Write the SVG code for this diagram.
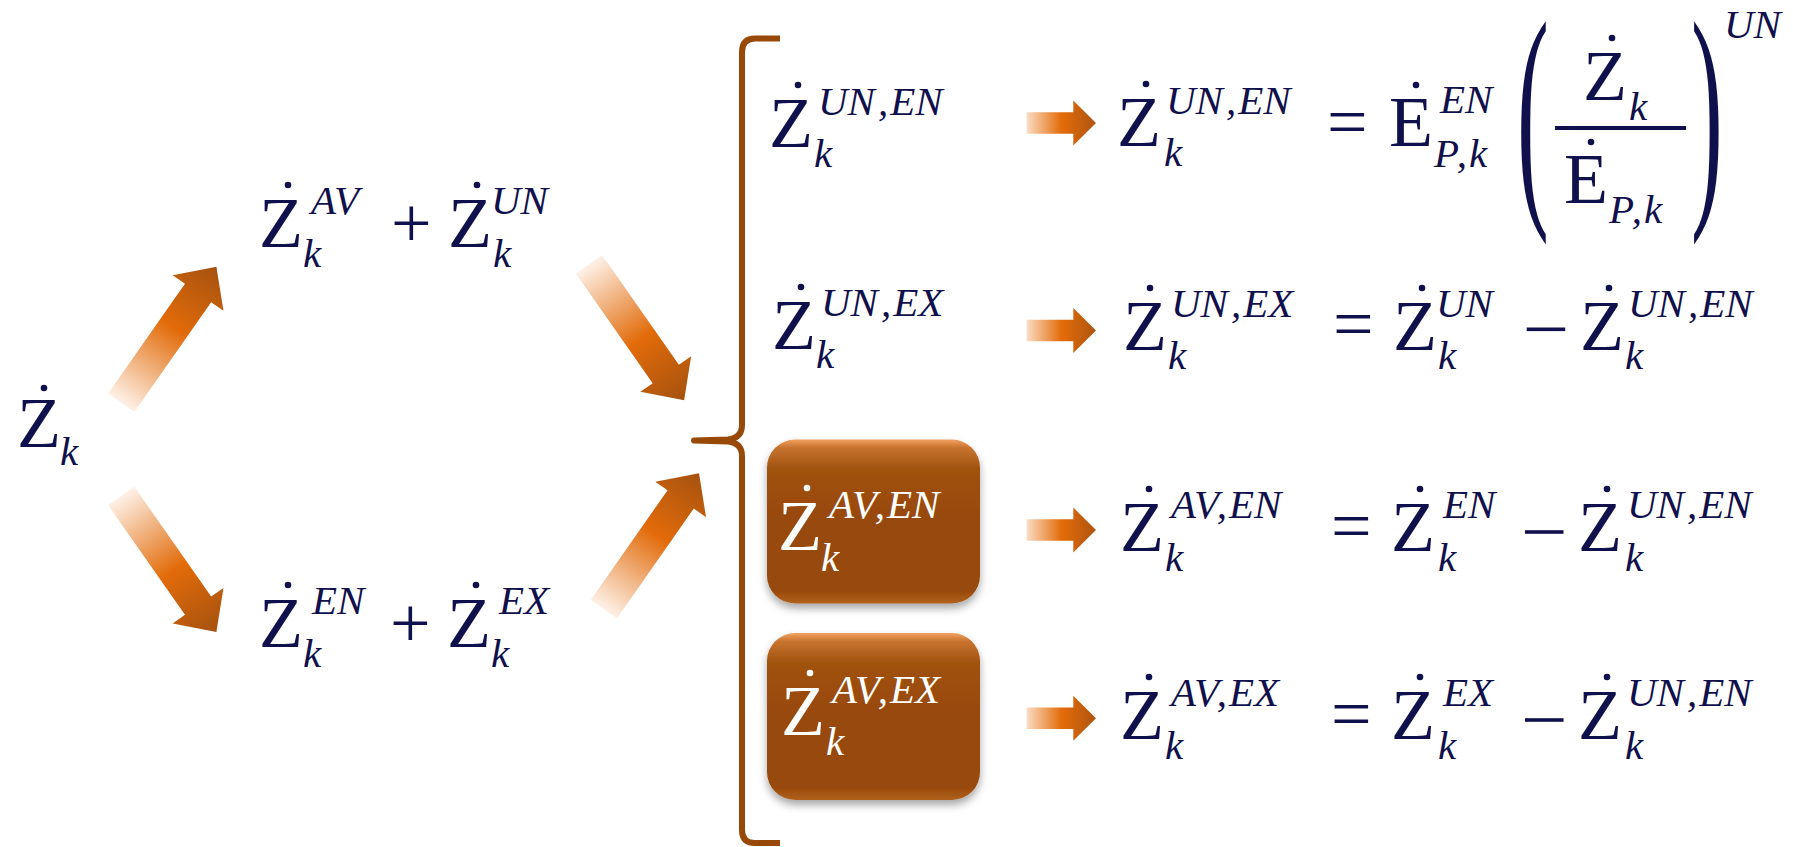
<svg xmlns="http://www.w3.org/2000/svg" width="1793" height="847" viewBox="0 0 1793 847">
<defs>
<linearGradient id="gBig" gradientUnits="userSpaceOnUse" x1="0" y1="0" x2="166" y2="0">
<stop offset="0" stop-color="#FEF1E7"/>
<stop offset="0.55" stop-color="#E26B0A"/>
<stop offset="1" stop-color="#A6520F"/>
</linearGradient>
<linearGradient id="gSmall" gradientUnits="userSpaceOnUse" x1="0" y1="0" x2="69.3" y2="0">
<stop offset="0" stop-color="#FADCC4"/>
<stop offset="0.5" stop-color="#E46C0A"/>
<stop offset="1" stop-color="#AE540F"/>
</linearGradient>
<linearGradient id="gBox" x1="0" y1="0" x2="0" y2="1">
<stop offset="0" stop-color="#F2A160"/>
<stop offset="0.05" stop-color="#C87430"/>
<stop offset="0.18" stop-color="#A0520F"/>
<stop offset="0.5" stop-color="#984807"/>
<stop offset="0.92" stop-color="#984807"/>
<stop offset="1" stop-color="#B0621E"/>
</linearGradient>
<filter id="shadow" x="-10%" y="-10%" width="120%" height="130%">
<feGaussianBlur in="SourceAlpha" stdDeviation="4"/>
<feOffset dy="5" result="b"/>
<feComponentTransfer><feFuncA type="linear" slope="0.35"/></feComponentTransfer>
<feMerge><feMergeNode/><feMergeNode in="SourceGraphic"/></feMerge>
</filter>
<path id="bigArrow" d="M0,-16 L134,-16 L134,-31 L166,0 L134,31 L134,16 L0,16 Z" fill="url(#gBig)"/>
<path id="smallArrow" d="M0,-10.8 L46.6,-10.8 L46.6,-22.5 L69.3,0 L46.6,22.5 L46.6,10.8 L0,10.8 Z" fill="url(#gSmall)"/>
</defs>

<g id="connectors">
<use href="#bigArrow" transform="translate(121.2,402.8) rotate(-55)"/>
<use href="#bigArrow" transform="translate(121.2,495.9) rotate(55)"/>
<use href="#bigArrow" transform="translate(588.9,264.2) rotate(55)"/>
<use href="#bigArrow" transform="translate(603.8,609.2) rotate(-55)"/>
<use href="#smallArrow" transform="translate(1026.7,123)"/>
<use href="#smallArrow" transform="translate(1026.7,330.5)"/>
<use href="#smallArrow" transform="translate(1026.7,530)"/>
<use href="#smallArrow" transform="translate(1026.7,718.3)"/>
<path id="brace" d="M780,38.5 L755,38.5 Q742,38.5 742,52 L742,425 Q742,438 728,439.5 L694,440.5 L728,441.5 Q742,443 742,456 L742,830 Q742,843 755,843 L780,843" fill="none" stroke="#984807" stroke-width="6" stroke-linejoin="round"/>
</g>

<g id="node-zk">
<text style="font-family:'Liberation Serif',serif;font-size:72px;fill:#10104C" x="17" y="447">Z</text>
<circle cx="44" cy="388" r="3.3" fill="#10104C"/>
<text style="font-family:'Liberation Serif',serif;font-style:italic;font-size:41px;fill:#10104C" x="60" y="465">k</text>
</g>

<g id="node-av-un">
<text style="font-family:'Liberation Serif',serif;font-size:72px;fill:#10104C" x="259" y="247">Z</text>
<circle cx="288" cy="185" r="3.3" fill="#10104C"/>
<text style="font-family:'Liberation Serif',serif;font-style:italic;font-size:41px;fill:#10104C" x="311" y="214">AV</text>
<text style="font-family:'Liberation Serif',serif;font-style:italic;font-size:41px;fill:#10104C" x="303" y="267">k</text>
<text style="font-family:'Liberation Serif',serif;font-size:72px;fill:#10104C" x="391" y="247">+</text>
<text style="font-family:'Liberation Serif',serif;font-size:72px;fill:#10104C" x="448" y="247">Z</text>
<circle cx="477" cy="185" r="3.3" fill="#10104C"/>
<text style="font-family:'Liberation Serif',serif;font-style:italic;font-size:41px;fill:#10104C" x="491" y="214">UN</text>
<text style="font-family:'Liberation Serif',serif;font-style:italic;font-size:41px;fill:#10104C" x="493" y="267">k</text>
</g>

<g id="node-en-ex">
<text style="font-family:'Liberation Serif',serif;font-size:72px;fill:#10104C" x="259" y="647">Z</text>
<circle cx="288" cy="585" r="3.3" fill="#10104C"/>
<text style="font-family:'Liberation Serif',serif;font-style:italic;font-size:41px;fill:#10104C" x="312" y="614">EN</text>
<text style="font-family:'Liberation Serif',serif;font-style:italic;font-size:41px;fill:#10104C" x="303" y="667">k</text>
<text style="font-family:'Liberation Serif',serif;font-size:72px;fill:#10104C" x="390" y="647">+</text>
<text style="font-family:'Liberation Serif',serif;font-size:72px;fill:#10104C" x="447" y="647">Z</text>
<circle cx="476" cy="585" r="3.3" fill="#10104C"/>
<text style="font-family:'Liberation Serif',serif;font-style:italic;font-size:41px;fill:#10104C" x="499" y="614">EX</text>
<text style="font-family:'Liberation Serif',serif;font-style:italic;font-size:41px;fill:#10104C" x="491" y="667">k</text>
</g>

<g id="node-un-en">
<text style="font-family:'Liberation Serif',serif;font-size:72px;fill:#10104C" x="769" y="147">Z</text>
<circle cx="798" cy="85" r="3.3" fill="#10104C"/>
<text style="font-family:'Liberation Serif',serif;font-style:italic;font-size:41px;fill:#10104C" x="818" y="115">UN<tspan dx="3">,</tspan><tspan dx="2">EN</tspan></text>
<text style="font-family:'Liberation Serif',serif;font-style:italic;font-size:41px;fill:#10104C" x="814" y="167">k</text>
</g>

<g id="node-un-ex">
<text style="font-family:'Liberation Serif',serif;font-size:72px;fill:#10104C" x="772" y="349">Z</text>
<circle cx="801" cy="287" r="3.3" fill="#10104C"/>
<text style="font-family:'Liberation Serif',serif;font-style:italic;font-size:41px;fill:#10104C" x="821" y="316">UN<tspan dx="3">,</tspan><tspan dx="2">EX</tspan></text>
<text style="font-family:'Liberation Serif',serif;font-style:italic;font-size:41px;fill:#10104C" x="816" y="368">k</text>
</g>

<g id="node-av-en">
<rect x="767" y="439.5" width="213" height="164" rx="28" fill="url(#gBox)" filter="url(#shadow)"/>
<text style="font-family:'Liberation Serif',serif;font-size:72px;fill:#FFFFFF" x="778" y="550">Z</text>
<circle cx="807" cy="488" r="3.3" fill="#FFFFFF"/>
<text style="font-family:'Liberation Serif',serif;font-style:italic;font-size:41px;fill:#FFFFFF" x="829" y="518">AV<tspan dx="3">,</tspan><tspan dx="2">EN</tspan></text>
<text style="font-family:'Liberation Serif',serif;font-style:italic;font-size:41px;fill:#FFFFFF" x="821" y="571">k</text>
</g>

<g id="node-av-ex">
<rect x="767" y="633" width="213" height="167" rx="28" fill="url(#gBox)" filter="url(#shadow)"/>
<text style="font-family:'Liberation Serif',serif;font-size:72px;fill:#FFFFFF" x="781" y="735">Z</text>
<circle cx="810" cy="673" r="3.3" fill="#FFFFFF"/>
<text style="font-family:'Liberation Serif',serif;font-style:italic;font-size:41px;fill:#FFFFFF" x="832" y="703">AV<tspan dx="3">,</tspan><tspan dx="2">EX</tspan></text>
<text style="font-family:'Liberation Serif',serif;font-style:italic;font-size:41px;fill:#FFFFFF" x="826" y="755">k</text>
</g>

<g id="formula-1">
<text style="font-family:'Liberation Serif',serif;font-size:72px;fill:#10104C" x="1117" y="146">Z</text>
<circle cx="1146" cy="84" r="3.3" fill="#10104C"/>
<text style="font-family:'Liberation Serif',serif;font-style:italic;font-size:41px;fill:#10104C" x="1166" y="114">UN<tspan dx="3">,</tspan><tspan dx="2">EN</tspan></text>
<text style="font-family:'Liberation Serif',serif;font-style:italic;font-size:41px;fill:#10104C" x="1164" y="166">k</text>
<text style="font-family:'Liberation Serif',serif;font-size:72px;fill:#10104C" x="1327" y="146">=</text>
<text style="font-family:'Liberation Serif',serif;font-size:72px;fill:#10104C" x="1389" y="146">E</text>
<circle cx="1416" cy="85" r="3.3" fill="#10104C"/>
<text style="font-family:'Liberation Serif',serif;font-style:italic;font-size:41px;fill:#10104C" x="1440" y="113">EN</text>
<text style="font-family:'Liberation Serif',serif;font-style:italic;font-size:41px;fill:#10104C" x="1434" y="167">P<tspan dx="3">,</tspan><tspan dx="2">k</tspan></text>
<text style="font-family:'Liberation Serif',serif;font-size:100px;fill:#10104C" transform="translate(1517,191.7) scale(0.955,2.45)">(</text>
<rect x="1555" y="126" width="131" height="4" fill="#10104C"/>
<text style="font-family:'Liberation Serif',serif;font-size:72px;fill:#10104C" x="1583" y="100">Z</text>
<circle cx="1612" cy="38" r="3.3" fill="#10104C"/>
<text style="font-family:'Liberation Serif',serif;font-style:italic;font-size:41px;fill:#10104C" x="1629" y="120">k</text>
<text style="font-family:'Liberation Serif',serif;font-size:72px;fill:#10104C" x="1564" y="203">E</text>
<circle cx="1591" cy="142" r="3.3" fill="#10104C"/>
<text style="font-family:'Liberation Serif',serif;font-style:italic;font-size:41px;fill:#10104C" x="1609" y="223">P<tspan dx="3">,</tspan><tspan dx="2">k</tspan></text>
<text style="font-family:'Liberation Serif',serif;font-size:100px;fill:#10104C" transform="translate(1691,191.7) scale(0.955,2.45)">)</text>
<text style="font-family:'Liberation Serif',serif;font-style:italic;font-size:41px;fill:#10104C" x="1724" y="38">UN</text>
</g>

<g id="formula-2">
<text style="font-family:'Liberation Serif',serif;font-size:72px;fill:#10104C" x="1123" y="350">Z</text>
<circle cx="1150" cy="288" r="3.3" fill="#10104C"/>
<text style="font-family:'Liberation Serif',serif;font-style:italic;font-size:41px;fill:#10104C" x="1171" y="317">UN<tspan dx="3">,</tspan><tspan dx="2">EX</tspan></text>
<text style="font-family:'Liberation Serif',serif;font-style:italic;font-size:41px;fill:#10104C" x="1168" y="369">k</text>
<text style="font-family:'Liberation Serif',serif;font-size:72px;fill:#10104C" x="1333" y="348">=</text>
<text style="font-family:'Liberation Serif',serif;font-size:72px;fill:#10104C" x="1393" y="350">Z</text>
<circle cx="1422" cy="288" r="3.3" fill="#10104C"/>
<text style="font-family:'Liberation Serif',serif;font-style:italic;font-size:41px;fill:#10104C" x="1436" y="317">UN</text>
<text style="font-family:'Liberation Serif',serif;font-style:italic;font-size:41px;fill:#10104C" x="1438" y="369">k</text>
<rect x="1526.7" y="327.5" width="38.5" height="3.6" fill="#10104C"/>
<text style="font-family:'Liberation Serif',serif;font-size:72px;fill:#10104C" x="1580" y="350">Z</text>
<circle cx="1609" cy="288" r="3.3" fill="#10104C"/>
<text style="font-family:'Liberation Serif',serif;font-style:italic;font-size:41px;fill:#10104C" x="1628" y="317">UN<tspan dx="3">,</tspan><tspan dx="2">EN</tspan></text>
<text style="font-family:'Liberation Serif',serif;font-style:italic;font-size:41px;fill:#10104C" x="1625" y="369">k</text>
</g>

<g id="formula-3">
<text style="font-family:'Liberation Serif',serif;font-size:72px;fill:#10104C" x="1120" y="551">Z</text>
<circle cx="1149" cy="489" r="3.3" fill="#10104C"/>
<text style="font-family:'Liberation Serif',serif;font-style:italic;font-size:41px;fill:#10104C" x="1171" y="518">AV<tspan dx="3">,</tspan><tspan dx="2">EN</tspan></text>
<text style="font-family:'Liberation Serif',serif;font-style:italic;font-size:41px;fill:#10104C" x="1165" y="571">k</text>
<text style="font-family:'Liberation Serif',serif;font-size:72px;fill:#10104C" x="1331" y="550">=</text>
<text style="font-family:'Liberation Serif',serif;font-size:72px;fill:#10104C" x="1391" y="551">Z</text>
<circle cx="1420" cy="489" r="3.3" fill="#10104C"/>
<text style="font-family:'Liberation Serif',serif;font-style:italic;font-size:41px;fill:#10104C" x="1443" y="518">EN</text>
<text style="font-family:'Liberation Serif',serif;font-style:italic;font-size:41px;fill:#10104C" x="1438" y="571">k</text>
<rect x="1525" y="530.2" width="38.5" height="3.6" fill="#10104C"/>
<text style="font-family:'Liberation Serif',serif;font-size:72px;fill:#10104C" x="1578" y="551">Z</text>
<circle cx="1607" cy="489" r="3.3" fill="#10104C"/>
<text style="font-family:'Liberation Serif',serif;font-style:italic;font-size:41px;fill:#10104C" x="1627" y="518">UN<tspan dx="3">,</tspan><tspan dx="2">EN</tspan></text>
<text style="font-family:'Liberation Serif',serif;font-style:italic;font-size:41px;fill:#10104C" x="1625" y="571">k</text>
</g>

<g id="formula-4">
<text style="font-family:'Liberation Serif',serif;font-size:72px;fill:#10104C" x="1120" y="739">Z</text>
<circle cx="1149" cy="677" r="3.3" fill="#10104C"/>
<text style="font-family:'Liberation Serif',serif;font-style:italic;font-size:41px;fill:#10104C" x="1171" y="706">AV<tspan dx="3">,</tspan><tspan dx="2">EX</tspan></text>
<text style="font-family:'Liberation Serif',serif;font-style:italic;font-size:41px;fill:#10104C" x="1165" y="759">k</text>
<text style="font-family:'Liberation Serif',serif;font-size:72px;fill:#10104C" x="1331" y="738">=</text>
<text style="font-family:'Liberation Serif',serif;font-size:72px;fill:#10104C" x="1391" y="739">Z</text>
<circle cx="1420" cy="677" r="3.3" fill="#10104C"/>
<text style="font-family:'Liberation Serif',serif;font-style:italic;font-size:41px;fill:#10104C" x="1443" y="706">EX</text>
<text style="font-family:'Liberation Serif',serif;font-style:italic;font-size:41px;fill:#10104C" x="1438" y="759">k</text>
<rect x="1525" y="718.2" width="38.5" height="3.6" fill="#10104C"/>
<text style="font-family:'Liberation Serif',serif;font-size:72px;fill:#10104C" x="1578" y="739">Z</text>
<circle cx="1607" cy="677" r="3.3" fill="#10104C"/>
<text style="font-family:'Liberation Serif',serif;font-style:italic;font-size:41px;fill:#10104C" x="1627" y="706">UN<tspan dx="3">,</tspan><tspan dx="2">EN</tspan></text>
<text style="font-family:'Liberation Serif',serif;font-style:italic;font-size:41px;fill:#10104C" x="1625" y="759">k</text>
</g>
</svg>
